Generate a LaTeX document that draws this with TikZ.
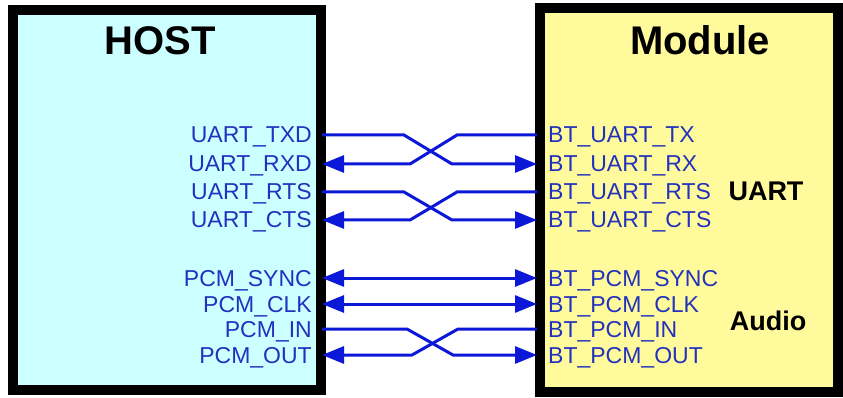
\documentclass[tikz,border=0pt]{standalone}
\usepackage{fontspec}
\setmainfont{Liberation Sans}
\usetikzlibrary{arrows.meta}
\definecolor{hostfill}{RGB}{204,255,255}
\definecolor{modfill}{RGB}{255,250,155}
\definecolor{sigblue}{RGB}{12,24,215}
\definecolor{txtblue}{RGB}{35,50,190}
\tikzset{
  box/.style={draw=black, line width=10pt, outer sep=0pt, inner sep=0pt, anchor=north west},
  title/.style={font=\fontsize{40}{44}\selectfont\bfseries},
  grp/.style={font=\fontsize{27}{30}\selectfont\bfseries},
  pin/.style={font=\fontsize{23}{25}\selectfont, text=txtblue, inner sep=0pt},
  sig/.style={draw=sigblue, line width=3pt},
  bigtri/.tip={Triangle[length=22pt,width=17pt]},
}
\begin{document}
\begin{tikzpicture}[x=1pt,y=-1pt]
\useasboundingbox (0,0) rectangle (843,398);
% boxes
\node[box, fill=hostfill, minimum width=308pt, minimum height=380pt] (host) at (13,10) {};
\node[box, fill=modfill, minimum width=298pt, minimum height=384pt] (mod) at (540,8) {};
\node[title] (hosttitle) at (160,41) {HOST};
\node[title] (modtitle) at (700,40) {Module};
\node[grp] (uart) at (766,191) {UART};
\node[grp] (audio) at (768,321) {Audio};
% host pins
\foreach \n/\t/\y in {h1/UART\_TXD/135, h2/UART\_RXD/164, h3/UART\_RTS/192, h4/UART\_CTS/220,
                       h5/PCM\_SYNC/278, h6/PCM\_CLK/304, h7/PCM\_IN/329, h8/PCM\_OUT/355}{
  \node[pin, anchor=base east] (\n) at (312,\y+8) {\t};
  \coordinate (\n p) at (322,\y);
}
% module pins
\foreach \n/\t/\y in {m1/BT\_UART\_TX/135, m2/BT\_UART\_RX/164, m3/BT\_UART\_RTS/192, m4/BT\_UART\_CTS/220,
                       m5/BT\_PCM\_SYNC/278, m6/BT\_PCM\_CLK/304, m7/BT\_PCM\_IN/329, m8/BT\_PCM\_OUT/355}{
  \node[pin, anchor=base west] (\n) at (548,\y+8) {\t};
  \coordinate (\n p) at (537,\y);
}
% UART crossings
\draw[sig, -bigtri] (h1p) -- (404,135) -- (452,164) -- (m2p);
\draw[sig, -bigtri] (m1p) -- (457,135) -- (410,164) -- (h2p);
\draw[sig, -bigtri] (h3p) -- (404,192) -- (452,220) -- (m4p);
\draw[sig, -bigtri] (m3p) -- (457,192) -- (410,220) -- (h4p);
% PCM
\draw[sig, bigtri-bigtri] (h5p) -- (m5p);
\draw[sig, bigtri-bigtri] (h6p) -- (m6p);
\draw[sig, -bigtri] (h7p) -- (407,329) -- (453,355) -- (m8p);
\draw[sig, -bigtri] (m7p) -- (458,329) -- (412,355) -- (h8p);
\end{tikzpicture}
\end{document}
